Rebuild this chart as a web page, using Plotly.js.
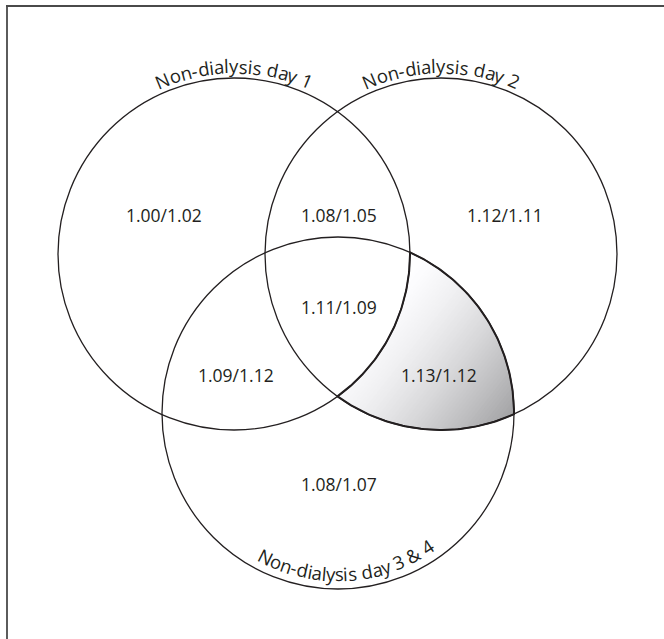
<!DOCTYPE html>
<html><head><meta charset="utf-8">
<script src="https://cdn.plot.ly/plotly-3.0.1.min.js"></script>
<style>html,body{margin:0;padding:0;background:#fff;}#chart{width:664px;height:639px;}</style>
</head><body><div id="chart"></div>
<script>
// ---- Data ----
const setNames = ["Non-dialysis day 1", "Non-dialysis day 2", "Non-dialysis day 3 & 4"];
const regionKeys = ["1", "1&2", "2", "1&2&3", "1&3", "2&3", "3"];
const regionLabels = ["1.00/1.02", "1.08/1.05", "1.12/1.11", "1.11/1.09", "1.09/1.12", "1.13/1.12", "1.08/1.07"];
const highlightedRegion = "2&3";

// ---- Layout geometry (hidden axes use pixel-like units) ----
const W = 664, H = 639;
const circles = [{cx:234, cy:254, r:176}, {cx:441, cy:254, r:176}, {cx:338, cy:413, r:176}];
const regionPos = {"1":[164,215], "1&2":[339,215], "2":[505,215], "1&2&3":[339,307], "1&3":[236,375], "2&3":[439,375], "3":[339,484]};
const nameStyle = [
  {side:"top", offset:5, center:0},
  {side:"top", offset:5, center:0},
  {side:"bottom", offset:-8, center:3.2}
];
const ink = "#231f20";
const numFont = {family:"Open Sans, sans-serif", size:17.5, color:ink};
const nameFontSize = 18.5, tracking = 0;

// ---- Geometry helpers ----
function inside(c, p){ return Math.hypot(p[0]-c.cx, p[1]-c.cy) < c.r - 1e-6; }
function inter(a, b){
  const dx=b.cx-a.cx, dy=b.cy-a.cy, d=Math.hypot(dx,dy);
  const l=(a.r*a.r-b.r*b.r+d*d)/(2*d), h=Math.sqrt(a.r*a.r-l*l);
  const mx=a.cx+l*dx/d, my=a.cy+l*dy/d;
  return [[mx+h*dy/d, my-h*dx/d],[mx-h*dy/d, my+h*dx/d]];
}
function arc(c, p0, p1, test, n){
  const a0=Math.atan2(p0[1]-c.cy,p0[0]-c.cx), a1=Math.atan2(p1[1]-c.cy,p1[0]-c.cx);
  let d=a1-a0; while(d<0) d+=2*Math.PI; while(d>=2*Math.PI) d-=2*Math.PI;
  let mid=a0+d/2;
  if(!test([c.cx+c.r*Math.cos(mid), c.cy+c.r*Math.sin(mid)])) d=d-2*Math.PI;
  const pts=[];
  for(let i=0;i<=n;i++){ const a=a0+d*i/n; pts.push([c.cx+c.r*Math.cos(a), c.cy+c.r*Math.sin(a)]); }
  return pts;
}
const [C1,C2,C3]=circles;
const P12 = inter(C1,C2).find(p=>inside(C3,p));
const P13 = inter(C1,C3).find(p=>inside(C2,p));
const P23 = inter(C2,C3).find(p=>!inside(C1,p));
let region = [];
region = region.concat(arc(C1,P12,P13,p=>inside(C2,p)&&inside(C3,p),80));
region = region.concat(arc(C3,P13,P23,p=>inside(C2,p)&&!inside(C1,p),80).slice(1));
region = region.concat(arc(C2,P23,P12,p=>inside(C3,p)&&!inside(C1,p),80).slice(1));

function clipHalf(poly, f){
  const out=[];
  for(let i=0;i<poly.length;i++){
    const P=poly[i], Q=poly[(i+1)%poly.length], fp=f(P), fq=f(Q);
    if(fp>=0) out.push(P);
    if((fp>=0)!==(fq>=0)){ const t=fp/(fp-fq); out.push([P[0]+t*(Q[0]-P[0]), P[1]+t*(Q[1]-P[1])]); }
  }
  return out;
}

const traces = [];
// gradient fill via diagonal bands
const ang = 38*Math.PI/180, dx=Math.cos(ang), dy=Math.sin(ang);
const proj = p=>p[0]*dx+p[1]*dy;
const tmin=Math.min(...region.map(proj)), tmax=Math.max(...region.map(proj));
const NB=60, cLight=255, cDark=162;
for(let i=0;i<NB;i++){
  const a=tmin+(tmax-tmin)*i/NB, b=tmin+(tmax-tmin)*(i+1)/NB+1.2;
  let poly=clipHalf(region,p=>proj(p)-a);
  poly=clipHalf(poly,p=>b-proj(p));
  if(poly.length<3) continue;
  const f=(i+0.5)/NB, v=Math.round(cLight+(cDark-cLight)*Math.pow(f,1.6));
  const col=`rgb(${v},${v},${Math.min(255,v+2)})`;
  traces.push({type:"scatter", mode:"lines", x:poly.map(p=>p[0]).concat([poly[0][0]]), y:poly.map(p=>p[1]).concat([poly[0][1]]),
    fill:"toself", fillcolor:col, line:{width:0, color:col}, hoverinfo:"skip", showlegend:false});
}
traces.push({type:"scatter", mode:"lines", x:region.map(p=>p[0]).concat([region[0][0]]), y:region.map(p=>p[1]).concat([region[0][1]]),
  line:{width:2, color:ink}, hoverinfo:"skip", showlegend:false});

// ---- shapes ----
const shapes = circles.map(c=>({type:"circle", xref:"x", yref:"y", x0:c.cx-c.r, x1:c.cx+c.r, y0:c.cy-c.r, y1:c.cy+c.r,
  line:{color:ink, width:1.3}, fillcolor:"rgba(0,0,0,0)", layer:"above"}));
shapes.push({type:"line", xref:"x", yref:"y", x0:7, x1:7, y0:5.5, y1:H+5, line:{color:"#4a4a4a", width:1.8}});
shapes.push({type:"line", xref:"x", yref:"y", x0:6, x1:W+5, y0:6, y1:6, line:{color:"#4a4a4a", width:1.8}});

// ---- annotations ----
const annotations = regionKeys.map((k,i)=>({x:regionPos[k][0], y:regionPos[k][1], xref:"x", yref:"y", text:regionLabels[i],
  showarrow:false, xanchor:"center", yanchor:"middle", font:numFont}));

const cv=document.createElement("canvas").getContext("2d");
cv.font = nameFontSize+'px "Open Sans"';
setNames.forEach((name,si)=>{
  const c=circles[si], st=nameStyle[si];
  const chars=[...name];
  const cum=[0];
  for(let i=1;i<=chars.length;i++) cum.push(cv.measureText(chars.slice(0,i).join("")).width + tracking*i);
  const L=cum[chars.length]-tracking;
  const Rb=c.r+st.offset;
  const centerOff = 0.39*nameFontSize;
  chars.forEach((ch,i)=>{
    if(ch===" ") return;
    const s=(cum[i]+cum[i+1]-tracking)/2 - L/2;
    const phi = s/Rb + st.center*Math.PI/180;
    let x,y,rot;
    if(st.side==="top"){
      const R=Rb+centerOff;
      x=c.cx+R*Math.sin(phi); y=c.cy-R*Math.cos(phi); rot=phi*180/Math.PI;
    } else {
      const R=Rb-centerOff;
      x=c.cx+R*Math.sin(phi); y=c.cy+R*Math.cos(phi); rot=-phi*180/Math.PI;
    }
    annotations.push({x:x, y:y, xref:"x", yref:"y", text:ch, showarrow:false, xanchor:"center", yanchor:"middle",
      textangle:rot, font:{family:"Open Sans, sans-serif", size:nameFontSize, color:ink}});
  });
});

const layout = {
  width:W, height:H, margin:{l:0,r:0,t:0,b:0}, paper_bgcolor:"#fff", plot_bgcolor:"#fff",
  xaxis:{range:[0,W], visible:false, fixedrange:true},
  yaxis:{range:[H,0], visible:false, fixedrange:true},
  shapes:shapes, annotations:annotations, showlegend:false
};
Plotly.newPlot("chart", traces, layout, {staticPlot:true, displayModeBar:false});
</script></body></html>
